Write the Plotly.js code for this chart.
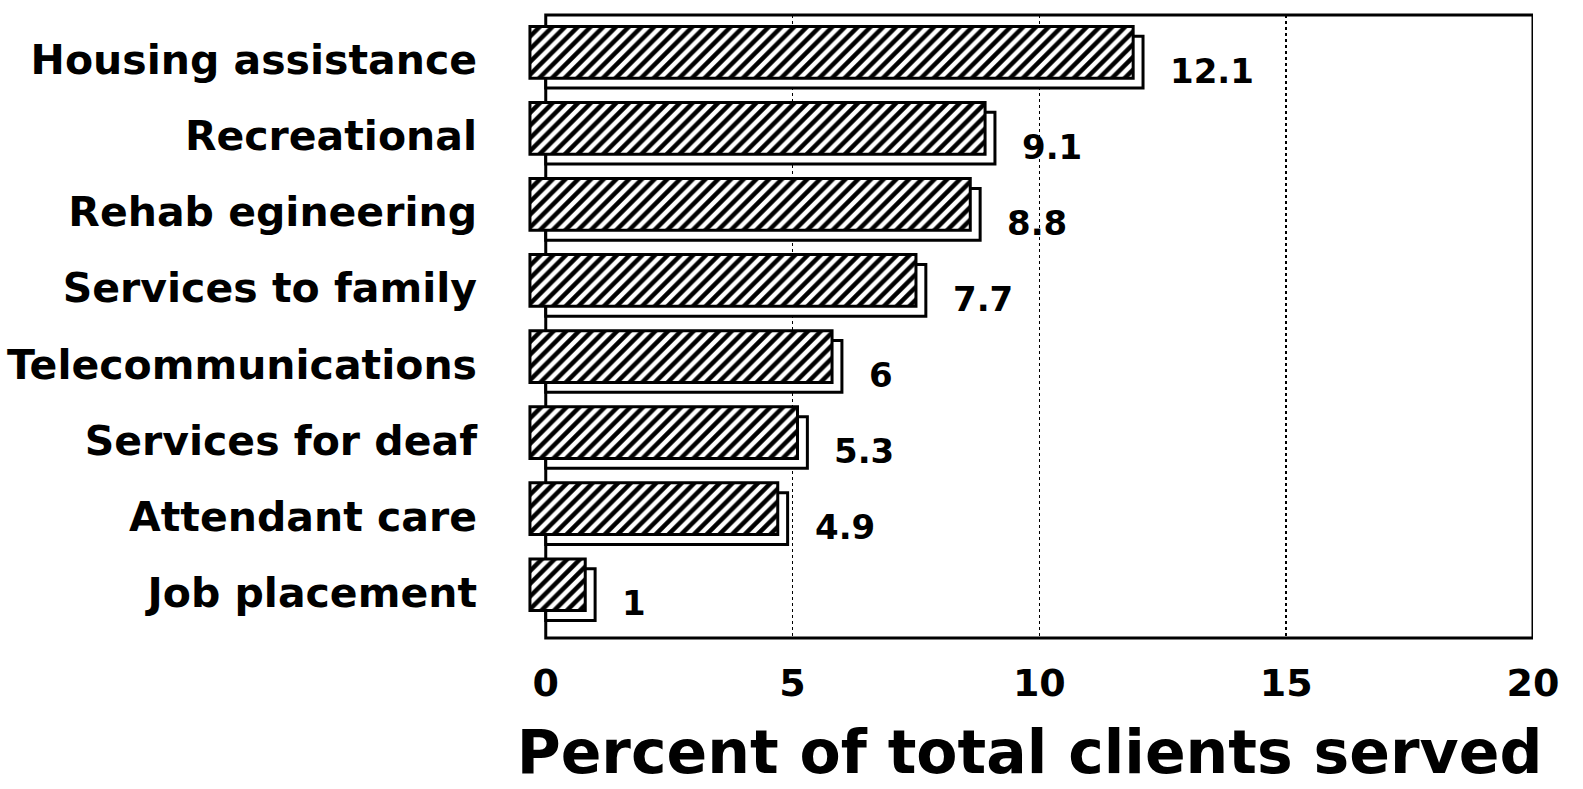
<!DOCTYPE html>
<html>
<head>
<meta charset="utf-8">
<script src="https://cdn.plot.ly/plotly-3.0.1.min.js"></script>
<style>html,body{margin:0;padding:0;background:#fff;}#chart{width:1583px;height:789px;}</style>
</head>
<body>
<div id="chart"></div>
<script>
// ---- data ----
const categories = ['Housing assistance', 'Recreational', 'Rehab egineering', 'Services to family',
                    'Telecommunications', 'Services for deaf', 'Attendant care', 'Job placement'];
const values = [12.1, 9.1, 8.8, 7.7, 6, 5.3, 4.9, 1];
const valueLabels = ['12.1', '9.1', '8.8', '7.7', '6', '5.3', '4.9', '1'];
const xTickVals = [0, 5, 10, 15, 20];
const xTickText = ['0', '5', '10', '15', '20'];
const xTitle = 'Percent of total clients served';

// ---- 3D bar styling (depth in axis units) ----
const DEPTH_X = 0.2;    // side face depth
const OVERHANG = 0.32;  // front face starts left of 0
const BAR_W = 0.68;

const FONT = 'DejaVu Sans, Liberation Sans, Arial, sans-serif';

const back = {
  type: 'bar', orientation: 'h',
  y: categories, x: values, base: 0,
  width: BAR_W, offset: -0.31,
  marker: {color: 'white', line: {color: 'black', width: 3}},
  hoverinfo: 'skip', showlegend: false
};
const front = {
  type: 'bar', orientation: 'h',
  y: categories, x: values.map(v => v - DEPTH_X + OVERHANG), base: -OVERHANG,
  width: BAR_W, offset: -0.44,
  marker: {
    color: 'white',
    line: {color: 'black', width: 3},
    pattern: {shape: '/', fgcolor: 'black', bgcolor: 'white', size: 9, solidity: 0.5, fillmode: 'replace'}
  },
  hoverinfo: 'skip', showlegend: false
};

const annotations = values.map((v, i) => ({
  x: v, y: categories[i], xref: 'x', yref: 'y',
  text: valueLabels[i], showarrow: false,
  xanchor: 'left', yanchor: 'middle', xshift: 25, yshift: -11,
  font: {family: FONT, size: 34, color: 'black', weight: 'bold'}
}));

const layout = {
  width: 1583, height: 789,
  margin: {l: 526, r: 50, t: 15, b: 151},
  paper_bgcolor: 'white', plot_bgcolor: 'white',
  barmode: 'overlay',
  showlegend: false,
  xaxis: {
    range: [-0.4, 20],
    tickvals: xTickVals, ticktext: xTickText,
    showgrid: true, gridcolor: 'black', gridwidth: 1.5, griddash: 'dot',
    zeroline: false, showline: false, ticks: '',
    ticklabelstandoff: 19,
    tickfont: {family: FONT, size: 38, color: 'black', weight: 'bold'},
    title: {text: xTitle, standoff: 26, font: {family: FONT, size: 60, color: 'black', weight: 'bold'}},
    fixedrange: true
  },
  yaxis: {
    type: 'category', categoryorder: 'array', categoryarray: categories,
    range: [7.6, -0.59],
    showgrid: false, zeroline: false, showline: false, ticks: '',
    ticklabelstandoff: 48,
    tickfont: {family: FONT, size: 41, color: 'black', weight: 'bold'},
    fixedrange: true
  },
  shapes: [{
    type: 'rect', xref: 'x', yref: 'paper', x0: 0, x1: 20, y0: 0, y1: 1,
    line: {color: 'black', width: 3}, layer: 'below'
  }],
  annotations: annotations
};

Plotly.newPlot('chart', [back, front], layout, {displayModeBar: false, staticPlot: true});
</script>
</body>
</html>
